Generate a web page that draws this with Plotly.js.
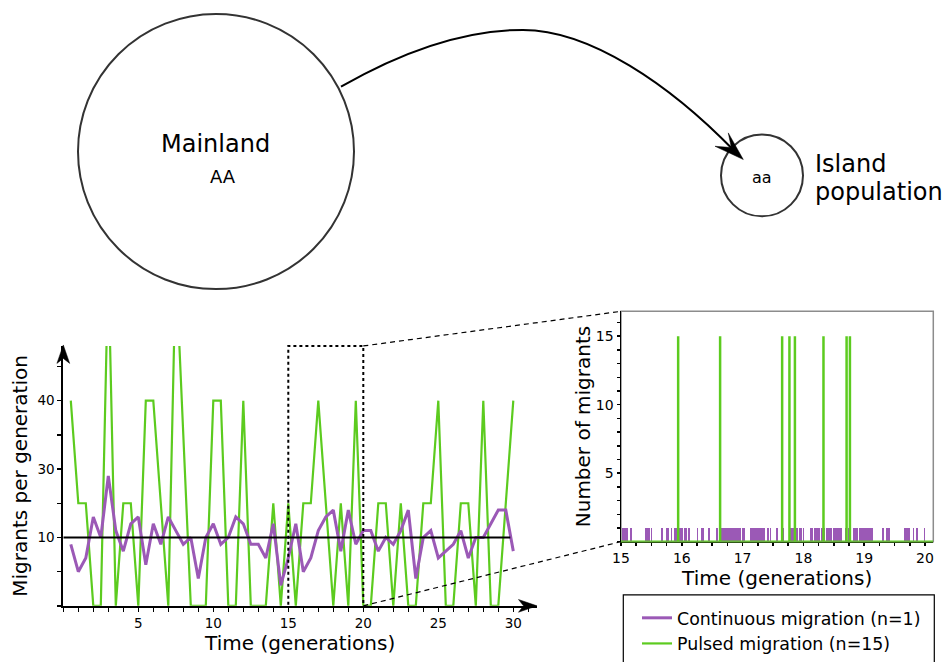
<!DOCTYPE html>
<html>
<head>
<meta charset="utf-8">
<script src="https://cdn.plot.ly/plotly-3.0.1.min.js"></script>
<style>html,body{margin:0;padding:0;background:#fff;}#chart{width:944px;height:662px;}</style>
</head>
<body>
<div id="chart"></div>
<script>
// ---- data ----
const genTimes = [0.5,1,1.5,2,2.5,3,3.5,4,4.5,5,5.5,6,6.5,7,7.5,8,8.5,9,9.5,10,
  10.5,11,11.5,12,12.5,13,13.5,14,14.5,15,15.5,16,16.5,17,17.5,18,18.5,19,19.5,20,
  20.5,21,21.5,22,22.5,23,23.5,24,24.5,25,25.5,26,26.5,27,27.5,28,28.5,29,29.5,30];
const continuousPerGen = [9,5,7,13,10,19,11,8,12,13, 6,12,9,13,11,9,10,4,10,12,
  9,10,13,12,9,9,7,12,3,7, 12,5,7,11,13,14,8,14,9,11,
  11,8,10,9,11,14,4,10,11,7, 8,9,11,7,10,10,12,14,14,8];
const pulsedPerGen = [30,15,15,0,0,50,0,15,15,0, 30,30,15,0,50,25,0,0,0,30,
  30,0,0,30,0,0,0,15,0,15, 0,15,15,30,15,0,15,0,30,0,
  0,15,15,0,15,0,0,15,15,30, 0,0,15,15,0,30,0,0,15,30];
const meanLevel = 10;
const yTickVals = [10,20,30];
const yTickText = ['10','30','40'];
const xTickVals = [5,10,15,20,25,30];
const zoomStart = 15, zoomEnd = 20;

const contEventTimes = [15.03,15.06,15.10,15.17,15.41,15.44,15.47,15.50,15.67,15.75,15.77,15.83,15.88,15.90,
  15.97,16.00,16.05,16.07,16.12,16.26,16.33,16.35,16.45,16.58,16.62,16.66,16.69,16.72,16.74,16.76,16.79,
  16.82,16.85,16.88,16.91,16.94,16.96,17.00,17.02,17.13,17.16,17.19,17.22,17.25,17.29,17.32,17.35,17.42,
  17.46,17.56,17.64,17.66,17.80,17.83,17.89,17.94,17.97,18.00,18.12,18.15,18.19,18.22,18.26,18.31,18.34,
  18.39,18.42,18.45,18.50,18.53,18.56,18.59,18.62,18.70,18.74,18.83,18.86,18.89,18.92,18.95,18.98,19.01,
  19.04,19.07,19.10,19.13,19.31,19.38,19.41,19.67,19.70,19.74,19.81,19.87,19.99];
const contEventSize = 1;
const pulseEventTimes = [15.94,16.63,17.65,17.77,17.86,18.33,18.71,18.765];
const pulseEventSize = 15;

// ---- colours ----
const PURPLE = '#9b59b6', GREEN = '#5ccb1f';
const FONT = 'DejaVu Sans, Verdana, sans-serif';

// ---- helpers: pixel -> paper ----
const W = 944, H = 662;
const X = p => p / W, Y = p => 1 - p / H;
function pathPx(cmds) { // cmds: array of [cmd, x, y, ...]
  return cmds.map(c => c[0] + c.slice(1).reduce((s, v, i) => s + (i ? (i % 2 ? ',' : ' ') : '') + (i % 2 ? Y(v) : X(v)).toFixed(5), '')).join(' ');
}

// right-panel series built from event lists
const pulseX = [zoomStart], pulseY = [0];
pulseEventTimes.forEach(t => { pulseX.push(t, t, t); pulseY.push(0, pulseEventSize, 0); });
pulseX.push(20.136); pulseY.push(0);
const contY = contEventTimes.map(() => contEventSize);

const traces = [
  {x: genTimes, y: pulsedPerGen, type: 'scatter', mode: 'lines', name: 'Pulsed migration (n=15)',
   line: {color: GREEN, width: 2.2}, xaxis: 'x', yaxis: 'y', legendrank: 2},
  {x: genTimes, y: continuousPerGen, type: 'scatter', mode: 'lines', name: 'Continuous migration (n=1)',
   line: {color: PURPLE, width: 3}, xaxis: 'x', yaxis: 'y', legendrank: 1},
  {x: contEventTimes, y: contY, type: 'bar', width: 0.028, marker: {color: PURPLE, line: {width: 0}},
   xaxis: 'x2', yaxis: 'y2', showlegend: false, hoverinfo: 'x'},
  {x: pulseX, y: pulseY, type: 'scatter', mode: 'lines', line: {color: GREEN, width: 2.5},
   xaxis: 'x2', yaxis: 'y2', showlegend: false}
];

const axBase = {showgrid: false, zeroline: false, showline: true, linecolor: '#000',
  ticks: 'outside', tickcolor: '#000', automargin: false};

// zoom-window outline (three sides), positioned from the left panel's scale
const xPx = v => 63.3 + v * 15;           // left panel x scale in pixels
const zoomTopPx = 347, zoomBasePx = 607.7;

const layout = {
  width: W, height: H, margin: {l: 0, r: 0, t: 0, b: 0},
  paper_bgcolor: '#fff', plot_bgcolor: 'rgba(0,0,0,0)',
  font: {family: FONT, color: '#000'},
  showlegend: true, bargap: 0,
  xaxis: Object.assign({}, axBase, {
    domain: [X(63.3), X(537)], range: [0, 31.58], anchor: 'y', linewidth: 2,
    tickvals: xTickVals, ticklen: 4, tickwidth: 1.5, tickfont: {size: 13.5},
    minor: {dtick: 1, tick0: 0, ticks: 'outside', ticklen: 4, tickwidth: 1.5, tickcolor: '#000'},
    title: {text: 'Time (generations)', font: {size: 20}, standoff: 6}
  }),
  yaxis: Object.assign({}, axBase, {
    domain: [Y(607.7), Y(347)], range: [0, 38], anchor: 'x', linewidth: 2,
    tickvals: yTickVals, ticktext: yTickText, ticklen: 4, tickwidth: 1.5, tickfont: {size: 13.5},
    minor: {dtick: 5, tick0: 0, ticks: 'outside', ticklen: 4, tickwidth: 1.5, tickcolor: '#000'},
    title: {text: 'Migrants per generation', font: {size: 20}, standoff: 4}
  }),
  xaxis2: Object.assign({}, axBase, {
    domain: [X(621), X(933.3)], range: [15, 20.136], anchor: 'y2', linewidth: 1.5, linecolor: '#2f5a14',
    dtick: 1, tick0: 15, ticklen: 3, tickwidth: 1.5, tickfont: {size: 14},
    minor: {dtick: 0.25, ticks: 'outside', ticklen: 3, tickwidth: 1.5, tickcolor: '#000'},
    title: {text: 'Time (generations)', font: {size: 20}, standoff: 0}
  }),
  yaxis2: Object.assign({}, axBase, {
    domain: [Y(543.3), Y(312.3)], range: [0, 16.81], anchor: 'x2', linewidth: 1.5,
    tickvals: [5, 10, 15], ticklen: 3, tickwidth: 1.5, tickfont: {size: 14},
    minor: {dtick: 1, ticks: 'outside', ticklen: 3, tickwidth: 1.5, tickcolor: '#000'},
    title: {text: 'Number of migrants', font: {size: 20}, standoff: 0}
  }),
  legend: {x: X(637), y: Y(602), xanchor: 'left', yanchor: 'top', bgcolor: 'rgba(0,0,0,0)',
    borderwidth: 0, font: {size: 17.4, family: FONT}, itemwidth: 30, tracegroupgap: 0, traceorder: 'normal'},
  shapes: [
    // mean line on the left panel
    {type: 'line', xref: 'x', yref: 'y', x0: 0, x1: 29.8, y0: meanLevel, y1: meanLevel, line: {color: '#000', width: 2}},
    // zoom window (dotted, open at the base)
    {type: 'path', xref: 'paper', yref: 'paper', line: {color: '#000', width: 2, dash: 'dot'},
     path: pathPx([['M', xPx(zoomStart), zoomBasePx - 1], ['L', xPx(zoomStart), zoomTopPx], ['L', xPx(zoomEnd), zoomTopPx], ['L', xPx(zoomEnd), zoomBasePx - 1]])},
    // connector lines to the zoom panel
    {type: 'line', xref: 'paper', yref: 'paper', x0: X(xPx(zoomEnd)), y0: Y(zoomTopPx), x1: X(621), y1: Y(312.3), line: {color: '#000', width: 1.2, dash: '5px,4px'}},
    {type: 'line', xref: 'paper', yref: 'paper', x0: X(xPx(zoomEnd)), y0: Y(zoomBasePx), x1: X(621), y1: Y(543.3), line: {color: '#000', width: 1.2, dash: '5px,4px'}},
    // right panel frame
    {type: 'rect', xref: 'x2 domain', yref: 'y2 domain', x0: 0, x1: 1, y0: 0, y1: 1, layer: 'below', line: {color: '#8c8c8c', width: 1.5}},
    // axis arrowheads on the left panel
    {type: 'path', xref: 'paper', yref: 'paper', fillcolor: '#000', line: {color: '#000', width: 0.5},
     path: pathPx([['M', 537, 607.7], ['L', 518.5, 601.3], ['L', 523.5, 607.7], ['L', 518.5, 614.1]]) + ' Z'},
    {type: 'path', xref: 'paper', yref: 'paper', fillcolor: '#000', line: {color: '#000', width: 0.5},
     path: pathPx([['M', 63.3, 346], ['L', 56.9, 364.5], ['L', 63.3, 359.5], ['L', 69.7, 364.5]]) + ' Z'},
    // legend box
    {type: 'rect', xref: 'paper', yref: 'paper', x0: X(623.3), x1: X(934.3), y0: Y(700), y1: Y(596.7), line: {color: '#000', width: 1.2}},
    // diagram: mainland and island populations
    {type: 'circle', xref: 'paper', yref: 'paper', x0: X(78), x1: X(354), y0: Y(290), y1: Y(14), line: {color: '#333', width: 2}},
    {type: 'circle', xref: 'paper', yref: 'paper', x0: X(721), x1: X(803), y0: Y(217), y1: Y(135), line: {color: '#333', width: 2}},
    // migration arrow
    {type: 'path', xref: 'paper', yref: 'paper', line: {color: '#000', width: 2},
     path: pathPx([['M', 341, 87], ['Q', 440, 30, 523, 30], ['C', 590, 30, 670, 85, 734, 151]])},
    {type: 'path', xref: 'paper', yref: 'paper', fillcolor: '#000', line: {color: '#000', width: 0.5},
     path: pathPx([['M', 743.3, 160], ['L', 715, 146.7], ['L', 731.3, 148], ['L', 728.3, 133.3]]) + ' Z'}
  ],
  annotations: [
    {text: 'Mainland', xref: 'paper', yref: 'paper', x: X(215.5), y: Y(144), showarrow: false, font: {size: 24}, xanchor: 'center', yanchor: 'middle'},
    {text: 'AA', xref: 'paper', yref: 'paper', x: X(223), y: Y(177), showarrow: false, font: {size: 18}, xanchor: 'center', yanchor: 'middle'},
    {text: 'aa', xref: 'paper', yref: 'paper', x: X(762), y: Y(178), showarrow: false, font: {size: 16}, xanchor: 'center', yanchor: 'middle'},
    {text: 'Island', xref: 'paper', yref: 'paper', x: X(813), y: Y(164), showarrow: false, font: {size: 24}, xanchor: 'left', yanchor: 'middle'},
    {text: 'population', xref: 'paper', yref: 'paper', x: X(813), y: Y(193), showarrow: false, font: {size: 24}, xanchor: 'left', yanchor: 'middle'}
  ]
};

Plotly.newPlot('chart', traces, layout, {displayModeBar: false, staticPlot: true});
</script>
</body>
</html>
